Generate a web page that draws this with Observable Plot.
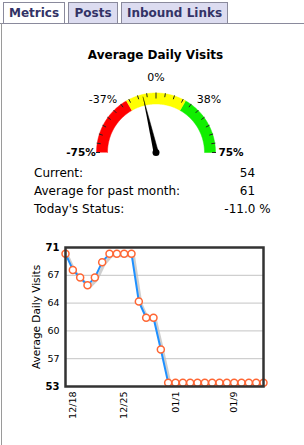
<!DOCTYPE html>
<html><head><meta charset="utf-8">
<script src="https://cdn.jsdelivr.net/npm/d3@7"></script>
<script src="https://cdn.jsdelivr.net/npm/@observablehq/plot@0.6"></script>
<style>
body{margin:0;width:304px;height:445px;overflow:hidden;background:#fff;position:relative;font-family:"DejaVu Sans",Verdana,sans-serif;color:#000}
.tab{position:absolute;top:2px;height:21px;border:1px solid #8a8a9c;border-bottom:none;box-sizing:border-box;font-weight:bold;font-size:12px;color:#333366;line-height:21px;text-align:center;background:#dcdcf0}
.tab.active{background:#fff}
#base{position:absolute;left:0;top:23px;width:304px;height:1px;background:#8a8a9c}
#side{position:absolute;left:1px;top:23px;width:1px;height:422px;background:#9a9a9a}
#title{position:absolute;left:0;width:311px;top:47px;text-align:center;font-weight:bold;font-size:12px;line-height:16px}
.lab{position:absolute;left:34px;font-size:12px;line-height:14px}
.val{position:absolute;left:207px;width:81px;text-align:center;font-size:12px;line-height:14px}
#gauge{position:absolute;left:0;top:62px}
#chart{position:absolute;left:0;top:235px}
</style></head>
<body>
<div id="tabs"></div>
<div id="base"></div><div id="side"></div>
<div id="title"></div>
<div id="stats"></div>
<div id="gauge"></div>
<div id="chart"></div>
<script>
// ---- data ----
const tabNames = ["Metrics", "Posts", "Inbound Links"];
const gaugeTitle = "Average Daily Visits";
const gaugeBandFrom = [-75, -25, 25];
const gaugeBandTo = [-25, 25, 75];
const gaugeBandColor = ["#ff0000", "#ffff00", "#11ee00"];
const gaugeLabelValues = [-75, -37.5, 0, 37.5, 75];
const statusValue = -11.0;
const statLabels = ["Current:", "Average for past month:", "Today's Status:"];
const statValues = ["54", "61", "-11.0 %"];

const dates = ["2009-12-17","2009-12-18","2009-12-19","2009-12-20","2009-12-21","2009-12-22","2009-12-23",
  "2009-12-24","2009-12-25","2009-12-26","2009-12-27","2009-12-28","2009-12-29","2009-12-30",
  "2009-12-31","2010-01-01","2010-01-02","2010-01-03","2010-01-04","2010-01-05","2010-01-06",
  "2010-01-07","2010-01-08","2010-01-09","2010-01-10","2010-01-11","2010-01-12","2010-01-13"];
const visits = [70.2, 68.1, 67.1, 66.1, 67.1, 69.1, 70.2, 70.2, 70.2, 70.2, 64.0, 61.9, 61.9, 57.8,
  53.5, 53.5, 53.5, 53.5, 53.5, 53.5, 53.5, 53.5, 53.5, 53.5, 53.5, 53.5, 53.5, 53.5];
const yDomain = [53, 71];
const yTickValues = [53, 56.6, 60.2, 63.8, 67.4, 71];
const xTickDates = ["2009-12-18", "2009-12-25", "2010-01-01", "2010-01-09"];
const yLabel = "Average Daily Visits";

// ---- tabs / text ----
const tabPos = [[3, 62], [68, 50], [121, 107]];
const tabs = document.getElementById("tabs");
tabNames.forEach((t, i) => {
  const d = document.createElement("div");
  d.className = "tab" + (i === 0 ? " active" : "");
  d.style.left = tabPos[i][0] + "px"; d.style.width = tabPos[i][1] + "px";
  d.textContent = t; tabs.appendChild(d);
});
document.getElementById("title").textContent = gaugeTitle;
const stats = document.getElementById("stats");
const rowTop = [166, 184, 202];
statLabels.forEach((l, i) => {
  const a = document.createElement("div"); a.className = "lab"; a.style.top = rowTop[i] + "px"; a.textContent = l; stats.appendChild(a);
  const b = document.createElement("div"); b.className = "val"; b.style.top = rowTop[i] + "px"; b.textContent = statValues[i]; stats.appendChild(b);
});

// ---- gauge ----
const R_OUT = 59.5, R_IN = 48.5, R_LAB = 75;
function pt(v, r) { const a = v / 75 * Math.PI / 2; return {x: r * Math.sin(a), y: r * Math.cos(a)}; }
function band(v0, v1) {
  const pts = [];
  const n = 60;
  for (let i = 0; i <= n; i++) pts.push(pt(v0 + (v1 - v0) * i / n, R_OUT));
  for (let i = n; i >= 0; i--) pts.push(pt(v0 + (v1 - v0) * i / n, R_IN));
  return pts;
}
const gaugeTicks = d3.range(-75, 75.001, 7.5);
const a = statusValue / 75 * Math.PI / 2;
const needle = [pt(statusValue, 57),
  {x: 2.4 * Math.cos(a), y: -2.4 * Math.sin(a)},
  {x: -2.4 * Math.cos(a), y: 2.4 * Math.sin(a)}];
const gauge = Plot.plot({
  width: 304, height: 100, margin: 0,
  x: {domain: [-155.5, 148.5], axis: null},
  y: {domain: [-10, 90], axis: null},
  style: {fontFamily: "DejaVu Sans", background: "transparent", overflow: "visible"},
  marks: [
    ...gaugeBandFrom.map((f, i) => Plot.line(band(f, gaugeBandTo[i]), {x: "x", y: "y", fill: gaugeBandColor[i], stroke: gaugeBandColor[i], strokeWidth: 0.5})),
    Plot.link(gaugeTicks, {
      x1: v => pt(v, v === 0 ? 54 : 56).x, y1: v => pt(v, v === 0 ? 54 : 56).y,
      x2: v => pt(v, 60).x, y2: v => pt(v, 60).y,
      stroke: "#222", strokeWidth: 1
    }),
    Plot.text(gaugeLabelValues.filter(v => Math.abs(v) < 75), {
      x: v => pt(v, R_LAB).x, y: v => pt(v, R_LAB).y, text: v => Math.round(v) + "%", fontSize: 11, fill: "#000"
    }),
    Plot.text(gaugeLabelValues.filter(v => Math.abs(v) >= 75), {
      x: v => pt(v, R_LAB).x, y: v => pt(v, R_LAB).y, text: v => Math.round(v) + "%", fontSize: 10.5, fontWeight: "bold", fill: "#000"
    }),
    Plot.line(needle, {x: "x", y: "y", fill: "#000", stroke: "#000", strokeWidth: 0.5}),
    Plot.dot([statusValue], {x: v => pt(v, 0).x, y: v => pt(v, 0).y, r: 3.5, fill: "#000", stroke: "none"})
  ]
});
document.getElementById("gauge").appendChild(gauge);

// ---- line chart ----
const data = dates.map((d, i) => ({date: new Date(d), v: visits[i]}));
const midTicks = yTickValues.slice(1, -1);
const endTicks = [yTickValues[0], yTickValues[yTickValues.length - 1]];
const chart = Plot.plot({
  width: 304, height: 210,
  marginLeft: 65, marginRight: 41, marginTop: 12, marginBottom: 59,
  x: {type: "utc", domain: [data[0].date, data[data.length - 1].date]},
  y: {domain: yDomain},
  style: {fontFamily: "DejaVu Sans", fontSize: "9px", color: "#000", background: "transparent", overflow: "visible"},
  marks: [
    Plot.gridY(midTicks, {stroke: "#c4c4c4", strokeOpacity: 1}),
    Plot.line(data, {x: "date", y: "v", stroke: "#bbbbbb", strokeWidth: 3, dx: 2, dy: 2, strokeOpacity: 0.7}),
    Plot.line(data, {x: "date", y: "v", stroke: "#1e90ff", strokeWidth: 2}),
    Plot.dot(data, {x: "date", y: "v", r: 3.5, fill: "#fff", stroke: "#ff6633", strokeWidth: 1.5}),
    Plot.frame({stroke: "#333", strokeWidth: 2.5}),
    Plot.axisY(midTicks, {tickSize: 0, tickPadding: 6, tickFormat: d => Math.round(d), label: null, fontSize: 9.5}),
    Plot.axisY(endTicks, {tickSize: 0, tickPadding: 6, tickFormat: d => Math.round(d), label: null, fontWeight: "bold", fontSize: 10}),
    Plot.axisX(xTickDates.map(d => new Date(d)), {tickSize: 0, tickPadding: 5, tickRotate: -90, tickFormat: d3.utcFormat("%m/%-d"), label: null, fontSize: 9.5}),
    Plot.text([yLabel], {frameAnchor: "left", textAnchor: "middle", rotate: -90, dx: -29, fontSize: 10.5, fill: "#000"})
  ]
});
document.getElementById("chart").appendChild(chart);
</script>
</body></html>
